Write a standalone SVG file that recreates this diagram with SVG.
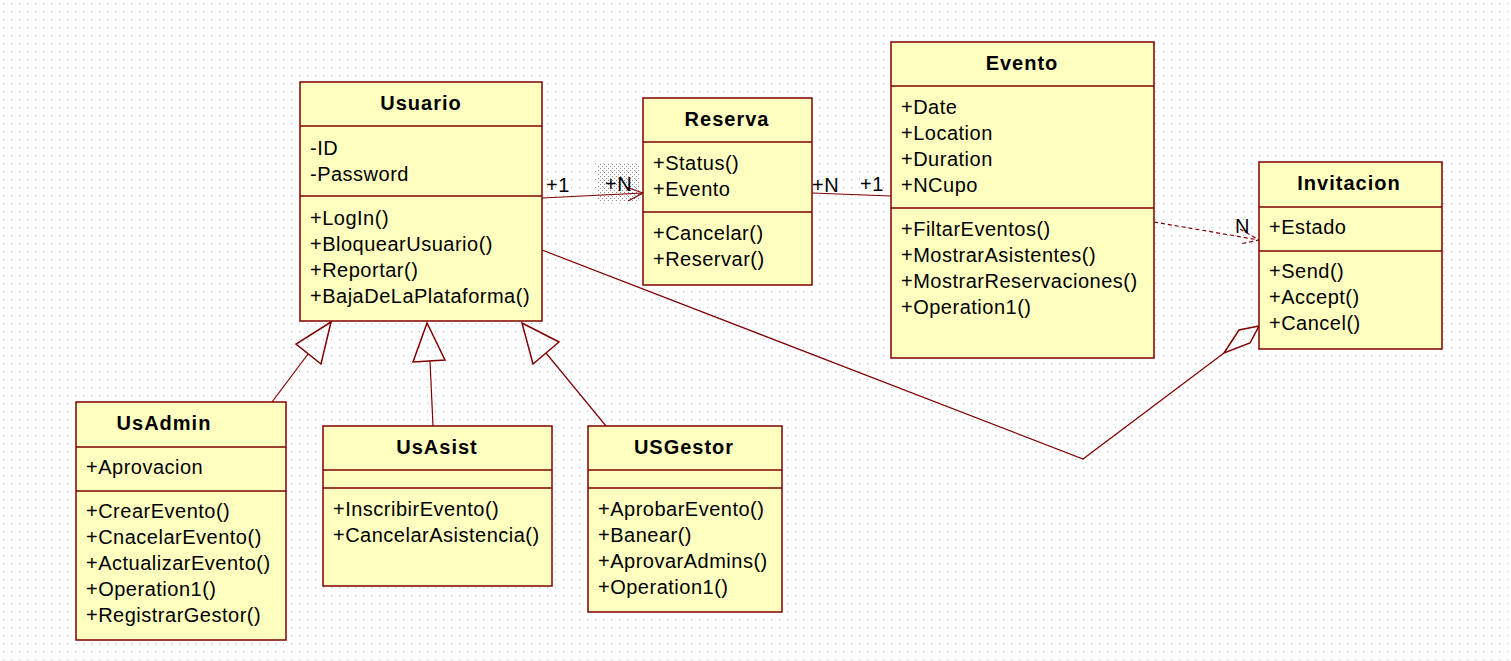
<svg xmlns="http://www.w3.org/2000/svg" width="1511" height="661" viewBox="0 0 1511 661">
<defs>
<pattern id="grid" patternUnits="userSpaceOnUse" width="8" height="8"><rect x="3" y="3" width="1" height="1" fill="#b4b4b4"/></pattern>
<pattern id="sel" patternUnits="userSpaceOnUse" width="4" height="4"><rect x="0" y="0" width="1" height="1" fill="#8a8a8a"/><rect x="2" y="2" width="1" height="1" fill="#8a8a8a"/></pattern>
<style>
.box{fill:#FFFFC0;stroke:#800000;stroke-width:1.5}
.sep{stroke:#800000;stroke-width:1.5}
.t{font-family:"Liberation Sans",Arial,sans-serif;font-size:20px;letter-spacing:0.5px;fill:#000}
.h{font-family:"Liberation Sans",Arial,sans-serif;font-size:20px;letter-spacing:1px;font-weight:bold;fill:#000;text-anchor:middle}
.ln{fill:none;stroke:#800000;stroke-width:1.2}
.tri{fill:none;stroke:#800000;stroke-width:1.5}
</style>
</defs>
<rect width="1511" height="661" fill="#fff"/>
<rect width="1511" height="661" fill="url(#grid)"/>
<rect x="598" y="163" width="41" height="38" fill="url(#sel)"/>

<g id="connectors">
  <polyline class="ln" points="542,198 643,193"/>
  <polyline class="ln" points="626,187 643,193 628,201"/>
  <polyline class="ln" points="812,193 891,196"/>
  <polyline class="ln" points="1154,222 1259,240" stroke-dasharray="4,3"/>
  <polyline class="ln" points="1240,229 1259,240 1240,244" stroke-dasharray="4,3"/>
  <polyline class="ln" points="542,250 1083,459 1224,353"/>
  <polygon class="tri" points="1259,326 1239,330 1224,353 1250,343"/>
  <polygon class="tri" points="331,322 296,344 321,364"/>
  <line class="ln" x1="308" y1="354" x2="272" y2="402"/>
  <polygon class="tri" points="427,323 413,362 445,360"/>
  <line class="ln" x1="430" y1="361" x2="433" y2="426"/>
  <polygon class="tri" points="522,323 559,342 533,364"/>
  <line class="ln" x1="546" y1="353" x2="606" y2="426"/>
  <text class="t" x="546" y="192">+1</text>
  <text class="t" x="605" y="191">+N</text>
  <text class="t" x="812" y="192">+N</text>
  <text class="t" x="860" y="191">+1</text>
  <text class="t" x="1235" y="233">N</text>
</g>

<g id="Usuario">
  <rect class="box" x="300" y="82" width="242" height="239"/>
  <line class="sep" x1="300" y1="126" x2="542" y2="126"/>
  <line class="sep" x1="300" y1="196" x2="542" y2="196"/>
  <text class="h" x="421" y="110">Usuario</text>
  <text class="t" x="310" y="155">-ID</text>
  <text class="t" x="310" y="181">-Password</text>
  <text class="t" x="310" y="225">+LogIn()</text>
  <text class="t" x="310" y="251">+BloquearUsuario()</text>
  <text class="t" x="310" y="277">+Reportar()</text>
  <text class="t" x="310" y="303">+BajaDeLaPlataforma()</text>
</g>

<g id="Reserva">
  <rect class="box" x="643" y="98" width="169" height="187"/>
  <line class="sep" x1="643" y1="142" x2="812" y2="142"/>
  <line class="sep" x1="643" y1="212" x2="812" y2="212"/>
  <text class="h" x="727" y="126">Reserva</text>
  <text class="t" x="653" y="170">+Status()</text>
  <text class="t" x="653" y="196">+Evento</text>
  <text class="t" x="653" y="240">+Cancelar()</text>
  <text class="t" x="653" y="266">+Reservar()</text>
</g>

<g id="Evento">
  <rect class="box" x="891" y="42" width="263" height="316"/>
  <line class="sep" x1="891" y1="86" x2="1154" y2="86"/>
  <line class="sep" x1="891" y1="208" x2="1154" y2="208"/>
  <text class="h" x="1022" y="70">Evento</text>
  <text class="t" x="901" y="114">+Date</text>
  <text class="t" x="901" y="140">+Location</text>
  <text class="t" x="901" y="166">+Duration</text>
  <text class="t" x="901" y="192">+NCupo</text>
  <text class="t" x="901" y="236">+FiltarEventos()</text>
  <text class="t" x="901" y="262">+MostrarAsistentes()</text>
  <text class="t" x="901" y="288">+MostrarReservaciones()</text>
  <text class="t" x="901" y="314">+Operation1()</text>
</g>

<g id="Invitacion">
  <rect class="box" x="1259" y="162" width="183" height="187"/>
  <line class="sep" x1="1259" y1="207" x2="1442" y2="207"/>
  <line class="sep" x1="1259" y1="251" x2="1442" y2="251"/>
  <text class="h" x="1349" y="190">Invitacion</text>
  <text class="t" x="1269" y="234">+Estado</text>
  <text class="t" x="1269" y="278">+Send()</text>
  <text class="t" x="1269" y="304">+Accept()</text>
  <text class="t" x="1269" y="330">+Cancel()</text>
</g>

<g id="UsAdmin">
  <rect class="box" x="76" y="402" width="210" height="238"/>
  <line class="sep" x1="76" y1="447" x2="286" y2="447"/>
  <line class="sep" x1="76" y1="491" x2="286" y2="491"/>
  <text class="h" x="164" y="430">UsAdmin</text>
  <text class="t" x="86" y="474">+Aprovacion</text>
  <text class="t" x="86" y="518">+CrearEvento()</text>
  <text class="t" x="86" y="544">+CnacelarEvento()</text>
  <text class="t" x="86" y="570">+ActualizarEvento()</text>
  <text class="t" x="86" y="596">+Operation1()</text>
  <text class="t" x="86" y="622">+RegistrarGestor()</text>
</g>

<g id="UsAsist">
  <rect class="box" x="323" y="426" width="229" height="160"/>
  <line class="sep" x1="323" y1="470" x2="552" y2="470"/>
  <line class="sep" x1="323" y1="488" x2="552" y2="488"/>
  <text class="h" x="437" y="454">UsAsist</text>
  <text class="t" x="333" y="516">+InscribirEvento()</text>
  <text class="t" x="333" y="542">+CancelarAsistencia()</text>
</g>

<g id="USGestor">
  <rect class="box" x="588" y="426" width="194" height="186"/>
  <line class="sep" x1="588" y1="470" x2="782" y2="470"/>
  <line class="sep" x1="588" y1="488" x2="782" y2="488"/>
  <text class="h" x="684" y="454">USGestor</text>
  <text class="t" x="598" y="516">+AprobarEvento()</text>
  <text class="t" x="598" y="542">+Banear()</text>
  <text class="t" x="598" y="568">+AprovarAdmins()</text>
  <text class="t" x="598" y="594">+Operation1()</text>
</g>
</svg>
